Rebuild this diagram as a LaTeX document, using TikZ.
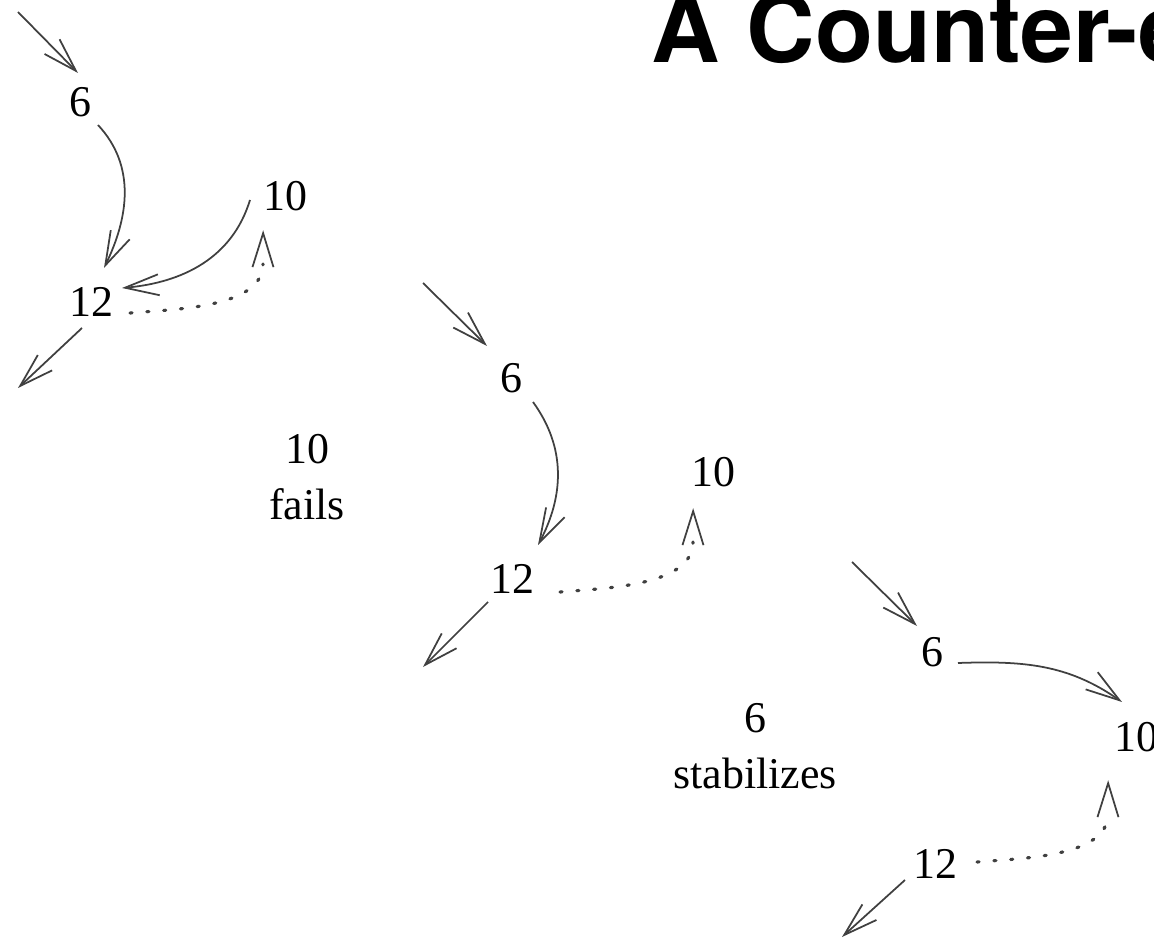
\documentclass[tikz,border=0pt]{standalone}
\usepackage{fontspec}
\setmainfont{Liberation Serif}
\newfontfamily\headfont{TeX Gyre Heros}
\usetikzlibrary{arrows.meta, decorations.markings}

\begin{document}
\begin{tikzpicture}[
        num/.style={inner sep=1pt, font=\fontsize{12.5}{16}\selectfont},
        barb/.tip={Straight Barb[length=3.4mm,width=2.1mm,line width=0.5pt]},
        link/.style={draw=black!75, line width=0.5pt, -barb},
        % dotted back pointer, its tip sits just past the end of the dots
        back/.style={draw=black!75, line width=0.9pt, dash pattern=on 0.6pt off 4.2pt, line cap=round,
            decoration={markings, mark=at position 0.999 with {\arrow[xshift=3.4mm]{barb}}},
            postaction={solid, decorate}}
    ]
    \useasboundingbox (0,0) rectangle (11.54,-9.47);
    \clip (0,0) rectangle (11.54,-9.47);
    % title
    \node[anchor=base west, inner sep=0pt, font=\headfont\bfseries\fontsize{27}{32}\selectfont]
        (title) at (6.51,-0.63) {A Counter-example};

    % first round: 10 is put between 6 and 12
    \node[num] (six1)    at (0.80,-1.02) {6};
    \node[num] (ten1)    at (2.85,-1.96) {10};
    \node[num] (twelve1) at (0.91,-3.02) {12};
    \coordinate (in1)  at (0.18,-0.12);
    \coordinate (out1) at (0.18,-3.88);
    \draw[link] (in1) -- ([xshift=-0.02cm, yshift=0.29cm]six1.center);
    \draw[link] ([xshift=0.18cm, yshift=-0.23cm]six1.center) to[out=-47, in=64]
        ([xshift=0.13cm, yshift=0.34cm]twelve1.center);
    \draw[link] ([xshift=-0.35cm, yshift=-0.04cm]ten1.center) to[out=-107, in=5]
        ([xshift=0.31cm, yshift=0.14cm]twelve1.center);
    \draw[back] ([xshift=0.39cm, yshift=-0.11cm]twelve1.center) to[out=5, in=-90, looseness=0.8]
        ([xshift=-0.22cm, yshift=-0.68cm]ten1.center);
    \draw[link] ([xshift=-0.09cm, yshift=-0.26cm]twelve1.center) -- (out1);

    \node[num, align=center] (fails) at (3.07,-4.77) {10\\ fails};

    % second round: 10 is gone
    \node[num] (six2)    at (5.11,-3.78) {6};
    \node[num] (ten2)    at (7.13,-4.72) {10};
    \node[num] (twelve2) at (5.12,-5.79) {12};
    \coordinate (in2)  at (4.23,-2.83);
    \coordinate (out2) at (4.23,-6.67);
    \draw[link] (in2) -- ([xshift=-0.24cm, yshift=0.32cm]six2.center);
    \draw[link] ([xshift=0.22cm, yshift=-0.24cm]six2.center) to[out=-54, in=62]
        ([xshift=0.26cm, yshift=0.34cm]twelve2.center);
    \draw[back] ([xshift=0.48cm, yshift=-0.13cm]twelve2.center) to[out=5, in=-90, looseness=0.8]
        ([xshift=-0.20cm, yshift=-0.70cm]ten2.center);
    \draw[link] ([xshift=-0.24cm, yshift=-0.23cm]twelve2.center) -- (out2);

    \node[num, align=center] (stable) at (7.55,-7.46) {6\\ stabilizes};

    % third round: 6 now points to 10
    \node[num] (six3)    at (9.32,-6.52) {6};
    \node[num] (ten3)    at (11.36,-7.37) {10};
    \node[num] (twelve3) at (9.35,-8.64) {12};
    \coordinate (in3)  at (8.52,-5.62);
    \coordinate (out3) at (8.42,-9.37);
    \draw[link] (in3) -- ([xshift=-0.15cm, yshift=0.26cm]six3.center);
    \draw[link] ([xshift=0.26cm, yshift=-0.11cm]six3.center) to[out=2, in=145]
        ([xshift=-0.14cm, yshift=0.35cm]ten3.center);
    \draw[back] ([xshift=0.42cm, yshift=0.02cm]twelve3.center) to[out=5, in=-90, looseness=0.8]
        ([xshift=-0.28cm, yshift=-0.77cm]ten3.center);
    \draw[link] ([xshift=-0.30cm, yshift=-0.16cm]twelve3.center) -- (out3);
\end{tikzpicture}
\end{document}
